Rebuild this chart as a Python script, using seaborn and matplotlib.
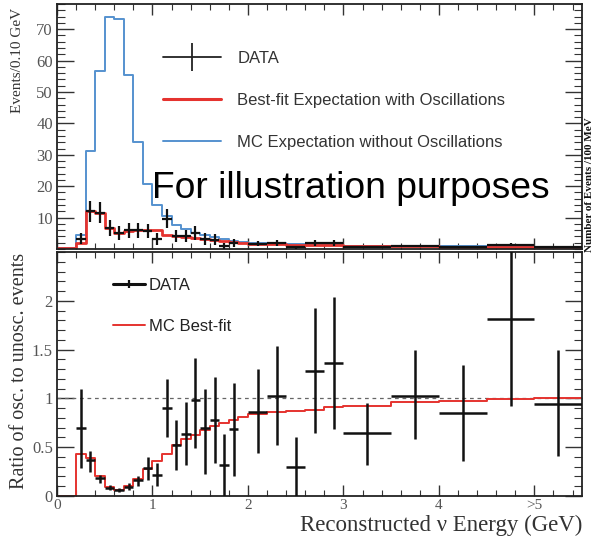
import numpy as np
import pandas as pd
import matplotlib
matplotlib.use("Agg")
import matplotlib.pyplot as plt
from matplotlib.lines import Line2D
from matplotlib.ticker import MultipleLocator, FixedLocator, FixedFormatter
import seaborn as sns

# ---------------- data ----------------
# bin edges (GeV)
bin_edges = [0.0, 0.2, 0.3, 0.4, 0.5, 0.6, 0.7, 0.8, 0.9, 1.0, 1.1, 1.2, 1.3, 1.4,
             1.5, 1.6, 1.7, 1.8, 1.9, 2.0, 2.2, 2.4, 2.6, 2.8, 3.0, 3.5, 4.0, 4.5,
             5.0, 5.5]
# top panel: events / 0.10 GeV
mc_unosc = [0.3, 4.6, 31.3, 56.8, 73.8, 73.1, 55.4, 34.2, 20.7, 13.9, 10.6, 7.8, 6.5,
            5.2, 4.6, 3.9, 3.1, 2.6, 2.3, 2.0, 1.8, 1.6, 1.4, 1.3, 1.1, 0.9, 0.8,
            0.7, 0.6]
mc_bestfit = [0.3, 2.0, 12.0, 11.5, 6.8, 5.0, 5.6, 6.0, 6.0, 5.9, 4.6, 4.2, 3.9,
              3.4, 3.1, 2.8, 2.4, 2.1, 1.9, 1.7, 1.6, 1.4, 1.3, 1.2, 1.0, 0.85,
              0.78, 0.68, 0.6]
# ratio panel: MC best-fit / unoscillated
ratio_mc = [0.0, 0.43, 0.39, 0.20, 0.09, 0.06, 0.10, 0.17, 0.28, 0.36, 0.43, 0.52,
            0.58, 0.63, 0.68, 0.72, 0.75, 0.78, 0.81, 0.84, 0.86, 0.87, 0.88, 0.91,
            0.92, 0.96, 0.97, 0.99, 1.00]

# data points
data_x = [0.25, 0.35, 0.45, 0.55, 0.65, 0.75, 0.85, 0.95, 1.05, 1.15, 1.25, 1.35,
          1.45, 1.55, 1.65, 1.75, 1.85, 2.1, 2.3, 2.5, 2.7, 2.9, 3.25, 3.75, 4.25,
          4.75, 5.25]
data_xerr = [0.05, 0.05, 0.05, 0.05, 0.05, 0.05, 0.05, 0.05, 0.05, 0.05, 0.05, 0.05,
             0.05, 0.05, 0.05, 0.05, 0.05, 0.1, 0.1, 0.1, 0.1, 0.1, 0.25, 0.25, 0.25,
             0.25, 0.25]
data_events = [3.3, 12.0, 11.6, 6.7, 5.0, 6.0, 6.0, 5.7, 3.2, 9.6, 4.2, 4.2, 5.1,
               3.2, 3.0, 1.0, 1.8, 1.7, 1.9, 0.5, 1.8, 1.8, 0.7, 0.9, 0.7, 1.3, 0.6]
data_events_err = [1.8, 3.3, 3.3, 2.5, 2.2, 2.4, 2.4, 2.3, 1.8, 3.0, 2.0, 2.0, 2.2,
                   1.8, 1.7, 1.0, 1.3, 0.9, 1.0, 0.5, 1.0, 1.0, 0.4, 0.4, 0.4, 0.5,
                   0.3]
ratio_data = [0.70, 0.37, 0.18, 0.085, 0.06, 0.095, 0.16, 0.29, 0.22, 0.90, 0.52,
              0.64, 0.98, 0.70, 0.78, 0.32, 0.69, 0.86, 1.03, 0.30, 1.28, 1.36, 0.65,
              1.03, 0.855, 1.81, 0.94]
# upper / lower ends of the error bars
ratio_upper = [1.10, 0.46, 0.22, 0.11, 0.08, 0.13, 0.21, 0.40, 0.34, 1.20, 0.78,
               0.96, 1.41, 1.10, 1.22, 0.64, 1.16, 1.30, 1.54, 0.60, 1.93, 2.04,
               0.95, 1.50, 1.34, 2.60, 1.50]
ratio_lower = [0.29, 0.25, 0.13, 0.06, 0.04, 0.06, 0.10, 0.16, 0.10, 0.60, 0.27,
               0.32, 0.49, 0.23, 0.34, 0.00, 0.20, 0.44, 0.52, 0.00, 0.65, 0.69,
               0.32, 0.58, 0.36, 0.92, 0.41]

xtick_vals = [0, 1, 2, 3, 4, 5]
xtick_labels = ["0", "1", "2", "3", "4", ">5"]

# ---------------- style ----------------
sns.set_theme(style="ticks")
plt.rcParams["font.family"] = ["Liberation Sans", "DejaVu Sans"]

BLUE = "#5592cf"
RED = "#e5332f"
TICKC = "#555555"
SERIF = ["Liberation Serif", "DejaVu Serif"]

fig = plt.figure(figsize=(5.94, 5.48), dpi=100)
ax1 = fig.add_axes([0.096, 0.5456, 0.884, 0.447])
ax2 = fig.add_axes([0.096, 0.0949, 0.884, 0.445])


def step_frame(edges, vals):
    return pd.DataFrame({"E": edges, "v": list(vals) + [vals[-1]]})


# ---------------- top panel ----------------
sns.lineplot(data=step_frame(bin_edges, mc_unosc), x="E", y="v", ax=ax1,
             drawstyle="steps-post", color=BLUE, lw=1.4, estimator=None, sort=False)
sns.lineplot(data=step_frame(bin_edges, mc_bestfit), x="E", y="v", ax=ax1,
             drawstyle="steps-post", color=RED, lw=2.0, estimator=None, sort=False)
ax1.errorbar(data_x, data_events, xerr=data_xerr, yerr=data_events_err, fmt="none",
             ecolor="#111111", elinewidth=1.6, capsize=0, zorder=5)

ax1.set_xlim(0, 5.5)
ax1.set_ylim(0, 78)
ax1.set_xlabel("")
ax1.set_ylabel("")
ax1.yaxis.set_major_locator(FixedLocator([10, 20, 30, 40, 50, 60, 70]))
ax1.yaxis.set_minor_locator(MultipleLocator(2))
ax1.xaxis.set_major_locator(FixedLocator(xtick_vals))
ax1.xaxis.set_minor_locator(MultipleLocator(0.2))
ax1.tick_params(axis="x", labelbottom=False)

h_data = Line2D([], [], color="#222222", lw=1.3, marker="|", markersize=20,
                markeredgewidth=1.3)
h_red = Line2D([], [], color=RED, lw=2.2)
h_blue = Line2D([], [], color=BLUE, lw=1.4)
leg1 = ax1.legend([h_data, h_red, h_blue],
                  ["DATA", "Best-fit Expectation with Oscillations",
                   "MC Expectation without Oscillations"],
                  loc="upper left", bbox_to_anchor=(163 / 594, 1 - 51 / 548),
                  bbox_transform=fig.transFigure, frameon=False, fontsize=12,
                  handlelength=3.5, handletextpad=0.95, labelspacing=1.63,
                  borderpad=0, borderaxespad=0, numpoints=1)
for t in leg1.get_texts():
    t.set_color("#333333")

fig.text(152 / 594, 1 - 188 / 548, "For illustration purposes", fontsize=26.8,
         color="black", ha="left", va="center", zorder=10)

# ---------------- bottom panel ----------------
ax2.axhline(1.0, color="#666666", lw=0.9, ls=(0, (3, 3)), zorder=1)
sns.lineplot(data=step_frame(bin_edges, ratio_mc), x="E", y="v", ax=ax2,
             drawstyle="steps-post", color=RED, lw=1.4, estimator=None, sort=False)
yerr_lo = [v - lo for v, lo in zip(ratio_data, ratio_lower)]
yerr_hi = [hi - v for v, hi in zip(ratio_data, ratio_upper)]
ax2.errorbar(data_x, ratio_data, xerr=data_xerr, yerr=[yerr_lo, yerr_hi],
             fmt="none", ecolor="#111111", elinewidth=1.8, capsize=0, zorder=5)

ax2.set_xlim(0, 5.5)
ax2.set_ylim(0, 2.5)
ax2.set_xlabel("")
ax2.set_ylabel("")
ax2.yaxis.set_major_locator(FixedLocator([0, 0.5, 1, 1.5, 2]))
ax2.yaxis.set_major_formatter(FixedFormatter(["0", "0.5", "1", "1.5", "2"]))
ax2.yaxis.set_minor_locator(MultipleLocator(0.1))
ax2.xaxis.set_major_locator(FixedLocator(xtick_vals))
ax2.xaxis.set_major_formatter(FixedFormatter(xtick_labels))
ax2.xaxis.set_minor_locator(MultipleLocator(0.2))

h_d2 = Line2D([], [], color="#111111", lw=2.2, marker="|", markersize=6,
              markeredgewidth=1.6)
h_r2 = Line2D([], [], color=RED, lw=1.4)
leg2 = ax2.legend([h_d2, h_r2], ["DATA", "MC Best-fit"], loc="upper left",
                  bbox_to_anchor=(113 / 594, 1 - 278 / 548),
                  bbox_transform=fig.transFigure, frameon=False, fontsize=12,
                  handlelength=1.9, handletextpad=0.25, labelspacing=1.55,
                  borderpad=0, borderaxespad=0, numpoints=1)
for t in leg2.get_texts():
    t.set_color("#222222")

for ax in (ax1, ax2):
    ax.tick_params(which="both", direction="in", top=True, right=True,
                   colors="#333333", labelcolor=TICKC, labelsize=12)
    ax.tick_params(axis="y", which="major", length=12, width=1.0, pad=3)
    ax.tick_params(axis="y", which="minor", length=6, width=0.8)
    ax.tick_params(axis="x", which="major", length=8, width=1.0, pad=2,
                   labelsize=11)
    ax.tick_params(axis="x", which="minor", length=4, width=0.8)
    for lab in ax.get_xticklabels() + ax.get_yticklabels():
        lab.set_family(SERIF)
    for s in ax.spines.values():
        s.set_linewidth(1.3)
        s.set_color("#222222")
    ax.set_facecolor("white")

# ---------------- labels ----------------
fig.text(18 / 594, 1 - 8 / 548, "Events/0.10 GeV", rotation=90, ha="center",
         va="top", fontsize=11, family=SERIF, color="#333333")
fig.text(20 / 594, 1 - 371 / 548, "Ratio of osc. to unosc. events", rotation=90,
         ha="center", va="center", fontsize=14.5, family=SERIF, color="#333333")
fig.text(582 / 594, 1 - 531 / 548, "Reconstructed \u03bd Energy (GeV)", ha="right",
         va="baseline", fontsize=16.5, family=SERIF, color="#333333")
# label of the neighbouring figure at the right edge
fig.text(593.5 / 594, 1 - 185 / 548, "Number of Events /100 MeV", rotation=90,
         ha="right", va="center", fontsize=8, fontweight="bold", family=SERIF,
         color="#111111")

fig.savefig("out.png", dpi=100, facecolor="white")
